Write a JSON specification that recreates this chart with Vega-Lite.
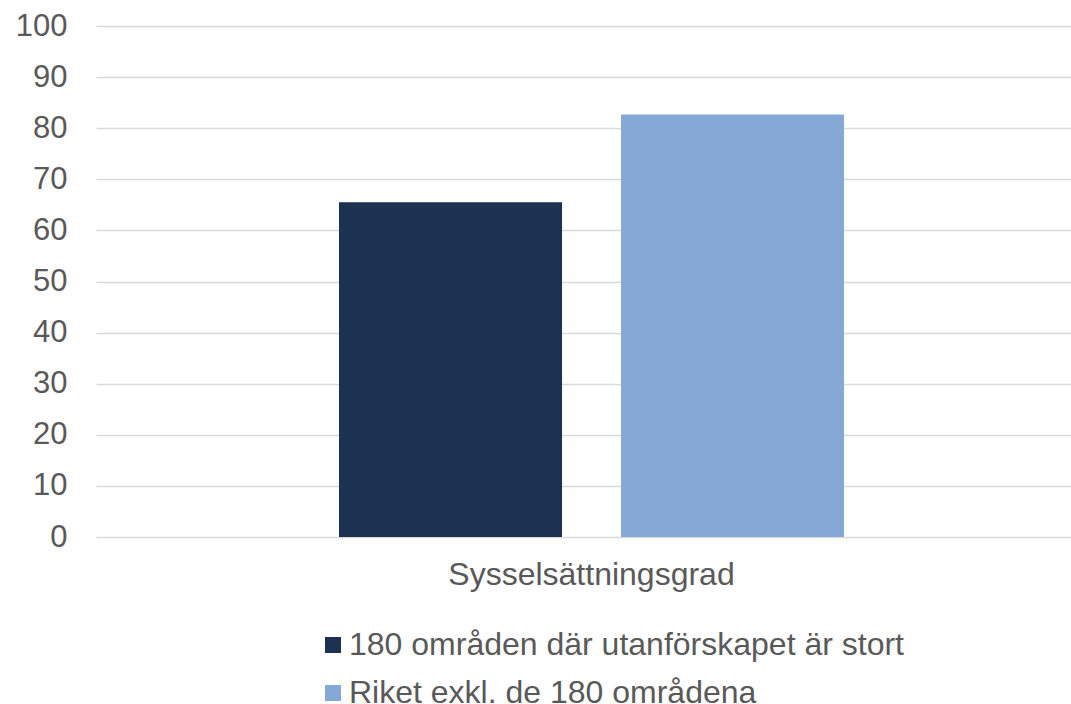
{
  "$schema": "https://vega.github.io/schema/vega-lite/v6.json",
  "width": 975,
  "height": 511,
  "autosize": {"type": "none"},
  "padding": {"left": 96, "top": 26, "right": 0, "bottom": 167},
  "background": "white",
  "config": {
    "view": {"stroke": null},
    "font": "Liberation Sans",
    "axis": {"labelFont": "Liberation Sans", "labelColor": "#595959"},
    "legend": {"labelFont": "Liberation Sans", "labelColor": "#595959"}
  },
  "data": {
    "values": [
      {"kategori": "Sysselsättningsgrad", "serie": "180 områden där utanförskapet är stort", "varde": 65.5},
      {"kategori": "Sysselsättningsgrad", "serie": "Riket exkl. de 180 områdena", "varde": 82.7}
    ]
  },
  "mark": {"type": "bar"},
  "encoding": {
    "x": {
      "field": "kategori",
      "type": "nominal",
      "scale": {"paddingInner": 0, "paddingOuter": 0.00834, "align": 1},
      "axis": {
        "title": null,
        "labelAngle": 0,
        "labelFontSize": 32,
        "labelPadding": 22,
        "labelLimit": 800,
        "ticks": false,
        "domain": false,
        "grid": false
      }
    },
    "xOffset": {
      "field": "serie",
      "type": "nominal",
      "scale": {"paddingInner": 0.209, "paddingOuter": 0.805, "align": 0.5}
    },
    "y": {
      "field": "varde",
      "type": "quantitative",
      "scale": {"domain": [0, 100], "nice": false},
      "axis": {
        "title": null,
        "values": [0, 10, 20, 30, 40, 50, 60, 70, 80, 90, 100],
        "labelFontSize": 31,
        "labelPadding": 29,
        "ticks": false,
        "domain": false,
        "grid": true,
        "gridColor": "#d9d9d9",
        "gridWidth": 1.5
      }
    },
    "color": {
      "field": "serie",
      "type": "nominal",
      "scale": {"range": ["#1D3150", "#86A8D7"]},
      "legend": {
        "title": null,
        "orient": "none",
        "legendX": 221,
        "legendY": 603,
        "direction": "vertical",
        "padding": 0,
        "symbolType": "square",
        "symbolSize": 256,
        "symbolStrokeWidth": 0,
        "symbolOpacity": 1,
        "labelFontSize": 32,
        "labelOffset": 0,
        "rowPadding": 16,
        "labelLimit": 800
      }
    }
  }
}
